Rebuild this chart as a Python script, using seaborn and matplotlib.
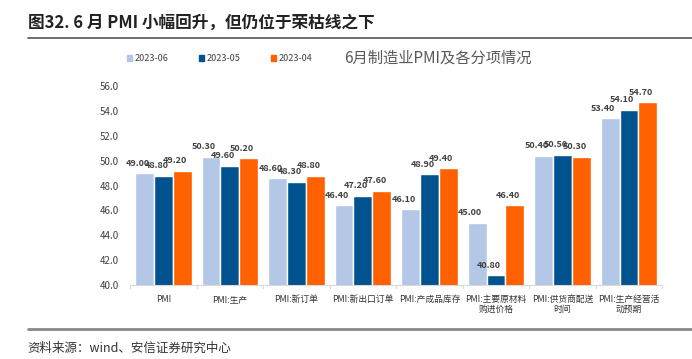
import pandas as pd
import numpy as np
import matplotlib.pyplot as plt
import seaborn as sns

sns.set_style('white')
plt.rcParams['font.family'] = ['Noto Sans CJK SC', 'DejaVu Sans']

categories = ['PMI', 'PMI:生产', 'PMI:新订单', 'PMI:新出口订单', 'PMI:产成品库存',
              'PMI:主要原材料\n购进价格', 'PMI:供货商配送\n时间', 'PMI:生产经营活\n动预期']
series = ['2023-06', '2023-05', '2023-04']
v_2023_06 = [49.0, 50.3, 48.6, 46.4, 46.1, 45.0, 50.4, 53.4]
v_2023_05 = [48.8, 49.6, 48.3, 47.2, 48.9, 40.8, 50.5, 54.1]
v_2023_04 = [49.2, 50.2, 48.8, 47.6, 49.4, 46.4, 50.3, 54.7]
colors = ['#B4C7E7', '#00538F', '#FF6000']

df = pd.DataFrame({
    'cat': categories * 3,
    'series': [s for s in series for _ in categories],
    'value': v_2023_06 + v_2023_05 + v_2023_04,
})

fig = plt.figure(figsize=(6.92, 3.59), dpi=100)
ax = fig.add_axes([0.188, 0.206, 0.769, 0.554])

sns.barplot(data=df, x='cat', y='value', hue='series', hue_order=series,
            palette=colors, width=0.85, gap=0, ax=ax, legend=False, saturation=1)

ax.set_ylim(40, 56)
ax.set_yticks(np.arange(40, 57, 2))
ax.set_yticklabels([f'{t:.1f}' for t in np.arange(40, 57, 2)], fontsize=7, color='#404040')
ax.set_xlabel('')
ax.set_ylabel('')
ax.tick_params(axis='x', length=0, pad=7, labelsize=6.3, colors='#333333')
ax.tick_params(axis='y', length=0, pad=8)
for sp in ['top', 'right', 'left']:
    ax.spines[sp].set_visible(False)
ax.spines['bottom'].set_color('#D9D9D9')
ax.set_xlim(-0.5, len(categories) - 0.5)
# boundary tick marks
for b in np.arange(-0.5, len(categories), 1.0):
    ax.plot([b, b], [0, -0.015], transform=ax.get_xaxis_transform(), color='#D9D9D9',
            lw=0.8, clip_on=False)

for cont in ax.containers:
    for p in cont:
        h = p.get_height()
        ax.annotate(f'{h:.2f}', (p.get_x() + p.get_width() / 2, h),
                    xytext=(-5, 4), textcoords='offset points', ha='center', va='bottom',
                    fontsize=6.5, color='#404040', fontweight='bold')

# legend
for i, (s, c) in enumerate(zip(series, colors)):
    x0 = 0.183 + i * 0.104
    fig.patches.append(plt.Rectangle((x0, 0.829), 0.008, 0.017, color=c,
                                     transform=fig.transFigure, figure=fig))
    fig.text(x0 + 0.012, 0.838, s, fontsize=6.5, color='#404040', va='center')
fig.text(0.497, 0.838, '6月制造业PMI及各分项情况', fontsize=11, color='#595959', va='center')

fig.text(0.04, 0.938, '图32. 6 月 PMI 小幅回升，但仍位于荣枯线之下', fontsize=12,
         fontweight='bold', color='#222222', va='center')
fig.add_artist(plt.Line2D([0.04, 1.0], [0.895, 0.895], color='#555555', lw=1.2))
fig.add_artist(plt.Line2D([0.04, 1.0], [0.083, 0.083], color='#888888', lw=2))
fig.text(0.04, 0.03, '资料来源：wind、安信证券研究中心', fontsize=9, style='italic',
         color='#333333', va='center')

fig.savefig('out.png', dpi=100)
